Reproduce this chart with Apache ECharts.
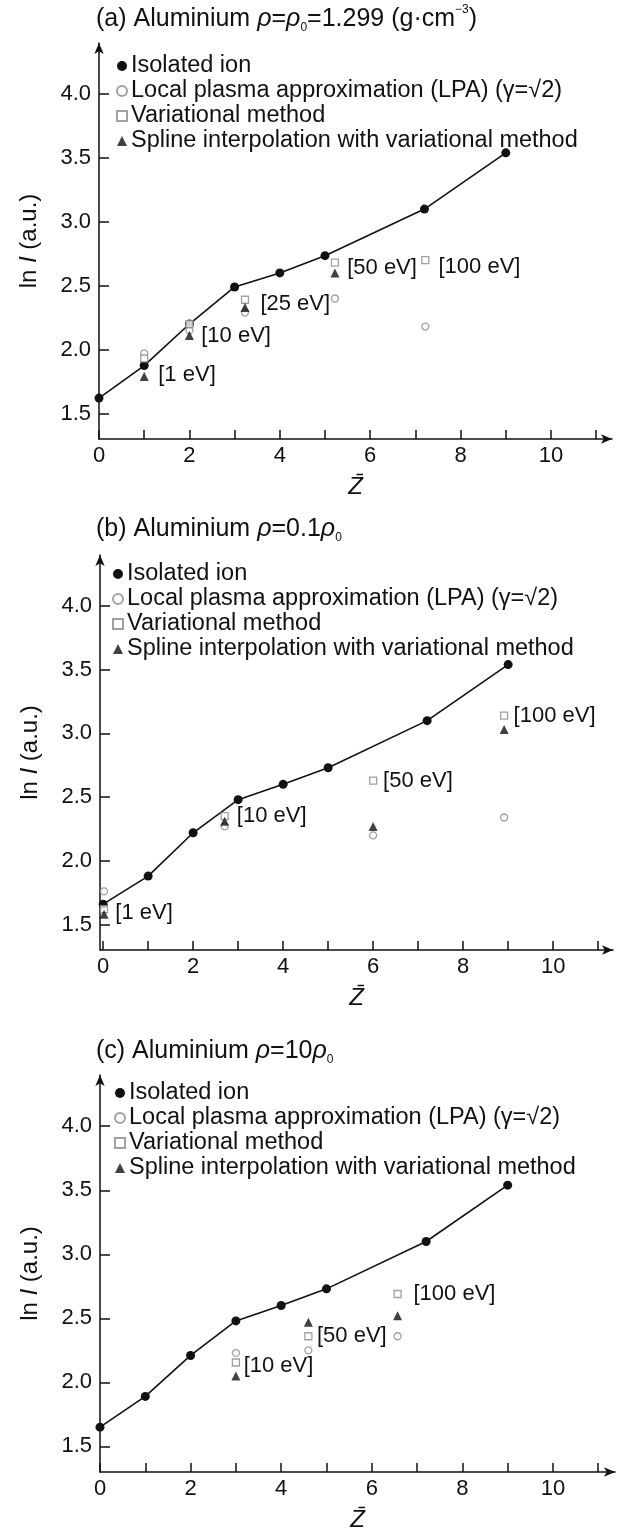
<!DOCTYPE html>
<html><head><meta charset="utf-8">
<script src="https://cdn.jsdelivr.net/npm/echarts@6/dist/echarts.min.js"></script>
<style>html,body{margin:0;padding:0;background:#fff}#c{width:630px;height:1534px}</style>
</head><body><div id="c"></div><script>
const FONT = "'Liberation Sans', Arial, Helvetica, sans-serif";

// ---- shared tick values ----
const xTickValues = [0, 1, 2, 3, 4, 5, 6, 7, 8, 9, 10, 11];
const xLabelValues = [0, 2, 4, 6, 8, 10];
const yTickValues = [1.5, 2.0, 2.5, 3.0, 3.5, 4.0];

// ---- series names ----
const names = ['Isolated ion', 'Local plasma approximation (LPA) (\u03b3=\u221a2)', 'Variational method', 'Spline interpolation with variational method'];

// ---- panel (a) rho = rho0 ----
const isoAx = [0, 1, 2, 3, 4, 5, 7.2, 9];
const isoAy = [1.62, 1.875, 2.20, 2.49, 2.60, 2.735, 3.10, 3.54];
const lpaAx = [1, 2, 3.23, 5.22, 7.22];
const lpaAy = [1.97, 2.15, 2.29, 2.40, 2.18];
const varAx = [1, 2, 3.23, 5.22, 7.22];
const varAy = [1.93, 2.20, 2.39, 2.68, 2.70];
const splAx = [1, 2, 3.23, 5.22];
const splAy = [1.79, 2.11, 2.33, 2.60];
const annA = [[1.3, 1.80, '[1 eV]'], [2.25, 2.11, '[10 eV]'], [3.56, 2.36, '[25 eV]'], [5.48, 2.64, '[50 eV]'], [7.5, 2.65, '[100 eV]']];

// ---- panel (b) rho = 0.1 rho0 ----
const isoBx = [0, 1, 2, 3, 4, 5, 7.2, 9];
const isoBy = [1.66, 1.88, 2.22, 2.48, 2.60, 2.73, 3.10, 3.54];
const lpaBx = [0.02, 2.7, 6.0, 8.91];
const lpaBy = [1.76, 2.27, 2.20, 2.34];
const varBx = [0.02, 2.7, 6.0, 8.91];
const varBy = [1.62, 2.35, 2.63, 3.14];
const splBx = [0.02, 2.7, 6.0, 8.91];
const splBy = [1.58, 2.31, 2.27, 3.03];
const annB = [[0.26, 1.59, '[1 eV]'], [2.96, 2.35, '[10 eV]'], [6.21, 2.63, '[50 eV]'], [9.11, 3.14, '[100 eV]']];

// ---- panel (c) rho = 10 rho0 ----
const isoCx = [0, 1, 2, 3, 4, 5, 7.2, 9];
const isoCy = [1.65, 1.89, 2.21, 2.48, 2.60, 2.73, 3.10, 3.54];
const lpaCx = [3.0, 4.6, 6.57];
const lpaCy = [2.23, 2.25, 2.36];
const varCx = [3.0, 4.6, 6.57];
const varCy = [2.155, 2.36, 2.69];
const splCx = [3.0, 4.6, 6.57];
const splCy = [2.05, 2.47, 2.52];
const annC = [[3.16, 2.13, '[10 eV]'], [4.78, 2.36, '[50 eV]'], [6.91, 2.69, '[100 eV]']];

const titles = [
  '(a) Aluminium {r|\u03c1}={r|\u03c1}{s|0}=1.299 (g\u00b7cm{p|\u22123})',
  '(b) Aluminium {r|\u03c1}=0.1{r|\u03c1}{s|0}',
  '(c) Aluminium {r|\u03c1}=10{r|\u03c1}{s|0}'
];

const zip = (xs, ys) => xs.map((x, i) => [x, ys[i]]);

const panels = [
  {grid: {left: 99, top: 43, width: 513, height: 396}, xmin: 0, xmax: 11.35, titleTop: 4, legend: {left: 116, top: 54},
   iso: zip(isoAx, isoAy), lpa: zip(lpaAx, lpaAy), vm: zip(varAx, varAy), spl: zip(splAx, splAy), ann: annA},
  {grid: {left: 100, top: 555, width: 513, height: 395}, xmin: -0.07, xmax: 11.33, titleTop: 514, legend: {left: 112, top: 562},
   iso: zip(isoBx, isoBy), lpa: zip(lpaBx, lpaBy), vm: zip(varBx, varBy), spl: zip(splBx, splBy), ann: annB},
  {grid: {left: 100, top: 1075, width: 515, height: 397}, xmin: 0, xmax: 11.37, titleTop: 1036, legend: {left: 114, top: 1081},
   iso: zip(isoCx, isoCy), lpa: zip(lpaCx, lpaCy), vm: zip(varCx, varCy), spl: zip(splCx, splCy), ann: annC}
];

const INK = '#111';
const GREY = '#8a8a8a';
const option = {
  backgroundColor: '#fff',
  animation: false,
  title: [], grid: [], xAxis: [], yAxis: [], legend: [], series: []
};

panels.forEach((p, i) => {
  option.title.push({
    text: titles[i], left: 96, top: p.titleTop, padding: 0,
    textStyle: {
      fontFamily: FONT, fontSize: 25, fontWeight: 'normal', color: INK, lineHeight: 30,
      rich: {
        r: {fontFamily: FONT, fontSize: 25, fontStyle: 'italic', color: INK, lineHeight: 30},
        s: {fontFamily: FONT, fontSize: 12, color: INK, verticalAlign: 'bottom', lineHeight: 16},
        p: {fontFamily: FONT, fontSize: 12, color: INK, verticalAlign: 'top', lineHeight: 16}
      }
    }
  });
  option.grid.push(Object.assign({containLabel: false, outerBoundsMode: 'none'}, p.grid));
  option.xAxis.push({
    type: 'value', gridIndex: i, min: p.xmin, max: p.xmax,
    name: 'Z\u0304', nameLocation: 'middle', nameGap: 36,
    nameTextStyle: {fontFamily: FONT, fontSize: 24, fontStyle: 'italic', color: INK},
    axisLine: {show: true, onZero: false, symbol: ['none', 'arrow'], symbolSize: [7, 11], lineStyle: {color: INK, width: 1.5}},
    axisTick: {show: true, inside: true, length: 9, customValues: xTickValues, lineStyle: {color: INK, width: 1.5}},
    axisLabel: {show: true, margin: 6, customValues: xLabelValues, fontFamily: FONT, fontSize: 22, color: INK},
    splitLine: {show: false}
  });
  option.yAxis.push({
    type: 'value', gridIndex: i, min: 1.3, max: 4.4,
    name: '{n|ln }{i|I}{n| (a.u.)}', nameLocation: 'middle', nameGap: 58,
    nameTextStyle: {fontFamily: FONT, fontSize: 24, color: INK,
      rich: {n: {fontFamily: FONT, fontSize: 24, color: INK}, i: {fontFamily: FONT, fontSize: 24, fontStyle: 'italic', color: INK}}},
    axisLine: {show: true, onZero: false, symbol: ['none', 'arrow'], symbolSize: [7, 11], lineStyle: {color: INK, width: 1.5}},
    axisTick: {show: true, inside: true, length: 10, customValues: yTickValues, lineStyle: {color: INK, width: 1.5}},
    axisLabel: {show: true, margin: 8, customValues: yTickValues, fontFamily: FONT, fontSize: 22, color: INK,
      formatter: v => v.toFixed(1)},
    splitLine: {show: false}
  });
  option.legend.push({
    orient: 'vertical', left: p.legend.left, top: p.legend.top, itemGap: 1, itemWidth: 10, itemHeight: 10,
    padding: 0, selectedMode: false,
    textStyle: {fontFamily: FONT, fontSize: 23.5, color: INK, lineHeight: 23, padding: [0, 0, 0, -1]},
    data: [
      {name: names[0], icon: 'circle'},
      {name: names[1], icon: 'circle'},
      {name: names[2], icon: 'rect'},
      {name: names[3], icon: 'triangle'}
    ]
  });
  option.series.push(
    {type: 'line', name: names[0], xAxisIndex: i, yAxisIndex: i, data: p.iso, symbol: 'circle', symbolSize: 9,
     itemStyle: {color: INK}, lineStyle: {color: INK, width: 1.6}, z: 3},
    {type: 'scatter', name: names[1], xAxisIndex: i, yAxisIndex: i, data: p.lpa, symbol: 'circle', symbolSize: 7,
     itemStyle: {color: '#fff', borderColor: GREY, borderWidth: 1.3}, z: 4},
    {type: 'scatter', name: names[2], xAxisIndex: i, yAxisIndex: i, data: p.vm, symbol: 'rect', symbolSize: 7,
     itemStyle: {color: '#fff', borderColor: GREY, borderWidth: 1.3}, z: 4},
    {type: 'scatter', name: names[3], xAxisIndex: i, yAxisIndex: i, data: p.spl, symbol: 'triangle', symbolSize: 9,
     itemStyle: {color: INK}, z: 5},
    {type: 'scatter', name: 'annotations', xAxisIndex: i, yAxisIndex: i, symbolSize: 1, silent: true,
     itemStyle: {color: 'rgba(255,255,255,0)', opacity: 1}, z: 6,
     data: p.ann.map(a => ({value: [a[0], a[1]], label: {show: true, formatter: a[2]}})),
     label: {show: true, position: 'right', distance: 0, fontFamily: FONT, fontSize: 22, color: INK, opacity: 1,
       textBorderWidth: 0}}
  );
});

const chart = echarts.init(document.getElementById('c'), null, {renderer: 'canvas'});
chart.setOption(option);
</script></body></html>
